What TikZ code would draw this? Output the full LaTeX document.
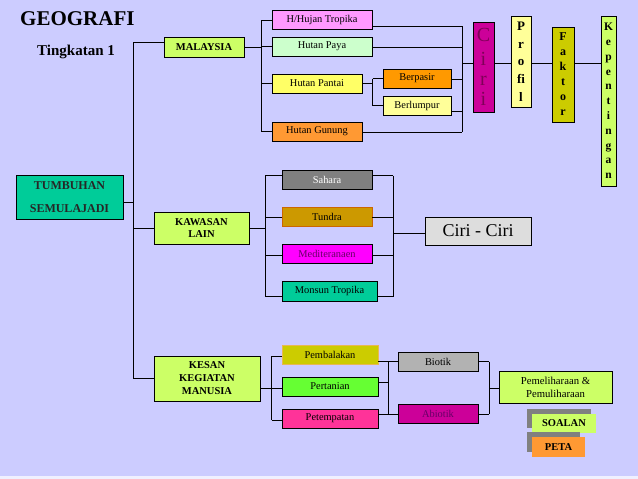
\documentclass[tikz,border=0pt]{standalone}
\usepackage{fontspec}
\setmainfont{Liberation Serif}
\usetikzlibrary{shadows}
\definecolor{bgcol}{HTML}{CCCCFF}
\definecolor{lime}{HTML}{CCFF66}
\definecolor{teal2}{HTML}{00CC99}
\definecolor{pinkv}{HTML}{FF99FF}
\definecolor{mint}{HTML}{CCFFCC}
\definecolor{yel}{HTML}{FFFF66}
\definecolor{orn}{HTML}{FF9933}
\definecolor{orn2}{HTML}{FF9900}
\definecolor{paley}{HTML}{FFFF99}
\definecolor{mag}{HTML}{CC0099}
\definecolor{olive2}{HTML}{CCCC00}
\definecolor{gray5}{HTML}{808080}
\definecolor{tund}{HTML}{CC9900}
\definecolor{tundb}{HTML}{CC6600}
\definecolor{fuch}{HTML}{FF00FF}
\definecolor{lgray}{HTML}{DDDDDD}
\definecolor{pemb}{HTML}{E8B850}
\definecolor{grn}{HTML}{66FF33}
\definecolor{rose}{HTML}{FF3399}
\definecolor{bgray}{HTML}{B2B2B2}
\definecolor{dpurp}{HTML}{660066}
\definecolor{cirit}{HTML}{800058}
\newcommand\fsReg{\fontsize{10.4}{12.5}\selectfont}
\newcommand\fsBold{\fontsize{10.5}{12}\selectfont\bfseries}
\tikzset{
  box/.style={draw=black, line width=0.8pt, inner sep=0pt, outer sep=0pt, align=center, font=\fsReg},
  conn/.style={line width=0.8pt, draw=black},
  tag/.style={inner sep=0pt, outer sep=0pt, align=center, font=\fsBold,
    general shadow={fill=gray5, shadow xshift=-5pt, shadow yshift=5pt}},
}
\begin{document}
\begin{tikzpicture}[x=1pt,y=-1pt]
\useasboundingbox (0,0) rectangle (638,479);
\fill[bgcol] (0,0) rectangle (638,479);
\fill[white!70!bgcol] (0,476) rectangle (638,479);

% titles
\node[anchor=base west, inner sep=0pt, font=\fontsize{21}{24}\selectfont\bfseries] (geo) at (20,26) {GEOGRAFI};
\node[anchor=base west, inner sep=0pt, font=\fontsize{15}{18}\selectfont\bfseries] (ting) at (37,55.5) {Tingkatan 1};

% main nodes
\node[box, fill=teal2, minimum width=107pt, minimum height=44pt, font=\fontsize{12}{23}\selectfont\bfseries, text=black!85] (tum) at (69.5,197) {TUMBUHAN\\SEMULAJADI};
\node[box, fill=lime, minimum width=80pt, minimum height=20pt, font=\fsBold] (mal) at (204,47) {MALAYSIA};
\node[box, fill=lime, minimum width=95pt, minimum height=32pt, font=\fsBold] (kaw) at (201.5,228) {KAWASAN\\LAIN};
\node[box, fill=lime, minimum width=106pt, minimum height=45pt, font=\fontsize{10.5}{13}\selectfont\bfseries] (kes) at (207,378.5) {KESAN\\KEGIATAN\\MANUSIA};

% Malaysia branch
\node[box, fill=pinkv, minimum width=100pt, minimum height=19pt] (hht) at (322,20) {H/Hujan Tropika};
\node[box, fill=mint, minimum width=100pt, minimum height=19pt] (hpy) at (322,46.5) {Hutan Paya};
\node[box, fill=yel, minimum width=90pt, minimum height=19pt] (hpt) at (317,83.5) {Hutan Pantai};
\node[box, fill=orn, minimum width=90pt, minimum height=19pt] (hgn) at (317,131.5) {Hutan Gunung};
\node[box, fill=orn2, minimum width=68pt, minimum height=19pt] (bps) at (417,78.5) {Berpasir};
\node[box, fill=paley, minimum width=68pt, minimum height=19pt] (blp) at (417,105.5) {Berlumpur};

% vertical boxes
\node[box, fill=mag, minimum width=21pt, minimum height=90pt, text=cirit, font=\fontsize{20}{20}\selectfont] (ciri) at (483.5,67) {C\\[4pt]i\\r\\i};
\node[box, fill=paley, minimum width=20pt, minimum height=91pt, font=\fontsize{13}{17.7}\selectfont\bfseries] (prof) at (521,61.5) {P\\r\\o\\fi\\l};
\node[box, fill=olive2, minimum width=22pt, minimum height=95pt, font=\fontsize{12}{15}\selectfont\bfseries] (fak) at (563,74.5) {F\\a\\k\\t\\o\\r};
\node[box, fill=lime, minimum width=15pt, minimum height=170pt, font=\fontsize{11.5}{14.8}\selectfont\bfseries] (kep) at (608.5,101) {K\\e\\p\\e\\n\\t\\i\\n\\g\\a\\n};

% Kawasan branch
\node[box, fill=gray5, minimum width=90pt, minimum height=19pt, text=white] (sah) at (327,180) {Sahara};
\node[box, fill=tund, draw=tundb, minimum width=90pt, minimum height=19pt] (tun) at (327,217) {Tundra};
\node[box, fill=fuch, minimum width=90pt, minimum height=19pt, text=dpurp] (med) at (327,253.5) {Mediteranaen};
\node[box, fill=teal2, minimum width=95pt, minimum height=20pt] (mon) at (329.5,291) {Monsun Tropika};
\node[box, fill=lgray, minimum width=106pt, minimum height=28pt, font=\fontsize{18}{20}\selectfont] (cc) at (478,231) {Ciri - Ciri};

% Kesan branch
\node[box, fill=olive2, draw=pemb, minimum width=96pt, minimum height=19pt] (pem) at (330,354.5) {Pembalakan};
\node[box, fill=grn, minimum width=96pt, minimum height=19pt] (per) at (330,386.5) {Pertanian};
\node[box, fill=rose, minimum width=96pt, minimum height=19pt] (pet) at (330,418.5) {Petempatan};
\node[box, fill=bgray, minimum width=80pt, minimum height=19pt] (bio) at (438,361.5) {Biotik};
\node[box, fill=mag, minimum width=80pt, minimum height=19pt, text=dpurp] (abi) at (438,413.5) {Abiotik};
\node[box, fill=lime, minimum width=113pt, minimum height=32pt, font=\fontsize{10.7}{13}\selectfont] (peml) at (555.5,387) {Pemeliharaan \&\\Pemuliharaan};

% tags
\node[tag, fill=lime, minimum width=64pt, minimum height=19pt] (soal) at (564,423.5) {SOALAN};
\node[tag, fill=orn, minimum width=53pt, minimum height=20pt] (peta) at (558.5,447) {PETA};

% trunk
\coordinate (t0) at (133,42);
\coordinate (t1) at (133,202);
\coordinate (t2) at (133,228);
\coordinate (t3) at (133,378.5);
\draw[conn] (t0) -- (t3);
\draw[conn] (t0) -- (t0 -| mal.west);
\draw[conn] (tum.east |- t1) -- (t1);
\draw[conn] (t2) -- (t2 -| kaw.west);
\draw[conn] (t3) -- (t3 -| kes.west);

% Malaysia connectors
\coordinate (m0) at (261,47);
\draw[conn] (mal.east) -- (m0);
\draw[conn] (m0 |- hht.west) -- (m0 |- hgn.west);
\foreach \n in {hht,hpy,hpt,hgn} \draw[conn] (m0 |- \n.west) -- (\n.west);
\coordinate (p0) at (372.7,83.5);
\draw[conn] (hpt.east) -- (p0);
\draw[conn] (p0 |- bps.west) -- (p0 |- blp.west);
\draw[conn] (p0 |- bps.west) -- (bps.west);
\draw[conn] (p0 |- blp.west) -- (blp.west);
\coordinate (r0) at (462,26);
\coordinate (r1) at (462,47);
\coordinate (r2) at (462,79);
\coordinate (r3) at (462,111);
\coordinate (r4) at (462,132);
\coordinate (c0) at (462,63);
\draw[conn] (hht.east |- r0) -- (r0);
\draw[conn] (hpy.east |- r1) -- (r1);
\draw[conn] (bps.east |- r2) -- (r2);
\draw[conn] (blp.east |- r3) -- (r3);
\draw[conn] (hgn.east |- r4) -- (r4);
\draw[conn] (r0) -- (r4);
\draw[conn] (c0) -- (c0 -| ciri.west);
\draw[conn] (ciri.east |- c0) -- (prof.west |- c0);
\draw[conn] (prof.east |- c0) -- (fak.west |- c0);
\draw[conn] (fak.east |- c0) -- (kep.west |- c0);

% Kawasan connectors
\coordinate (k0) at (265,228);
\coordinate (ka) at (265,175.7);
\coordinate (kb) at (265,217.3);
\coordinate (kc) at (265,255);
\coordinate (kd) at (265,296.7);
\draw[conn] (kaw.east) -- (k0);
\draw[conn] (ka) -- (kd);
\draw[conn] (ka) -- (ka -| sah.west);
\draw[conn] (kb) -- (kb -| tun.west);
\draw[conn] (kc) -- (kc -| med.west);
\draw[conn] (kd) -- (kd -| mon.west);
\coordinate (ra) at (393.3,175.7);
\coordinate (rb) at (393.3,217.3);
\coordinate (rc) at (393.3,255);
\coordinate (rd) at (393.3,296.7);
\coordinate (cc0) at (393.3,233);
\draw[conn] (sah.east |- ra) -- (ra);
\draw[conn] (tun.east |- rb) -- (rb);
\draw[conn] (med.east |- rc) -- (rc);
\draw[conn] (mon.east |- rd) -- (rd);
\draw[conn] (ra) -- (rd);
\draw[conn] (cc0) -- (cc0 -| cc.west);

% Kesan connectors
\coordinate (e0) at (271.7,388.3);
\coordinate (ea) at (271.7,356);
\coordinate (ec) at (271.7,420);
\draw[conn] (kes.east |- e0) -- (e0);
\draw[conn] (ea) -- (ec);
\draw[conn] (ea) -- (ea -| pem.west);
\draw[conn] (e0) -- (e0 -| per.west);
\draw[conn] (ec) -- (ec -| pet.west);
\coordinate (fa) at (388.3,361.7);
\coordinate (fb) at (388.3,382.3);
\coordinate (fc) at (388.3,414);
\draw[conn] (pem.east |- fa) -- (bio.west |- fa);
\draw[conn] (per.east |- fb) -- (fb);
\draw[conn] (pet.east |- fc) -- (abi.west |- fc);
\draw[conn] (fa) -- (fc);
\coordinate (ga) at (489.3,361.7);
\coordinate (gb) at (489.3,414.3);
\coordinate (g0) at (489.3,388.3);
\draw[conn] (bio.east |- ga) -- (ga);
\draw[conn] (abi.east |- gb) -- (gb);
\draw[conn] (ga) -- (gb);
\draw[conn] (g0) -- (g0 -| peml.west);
\end{tikzpicture}
\end{document}
